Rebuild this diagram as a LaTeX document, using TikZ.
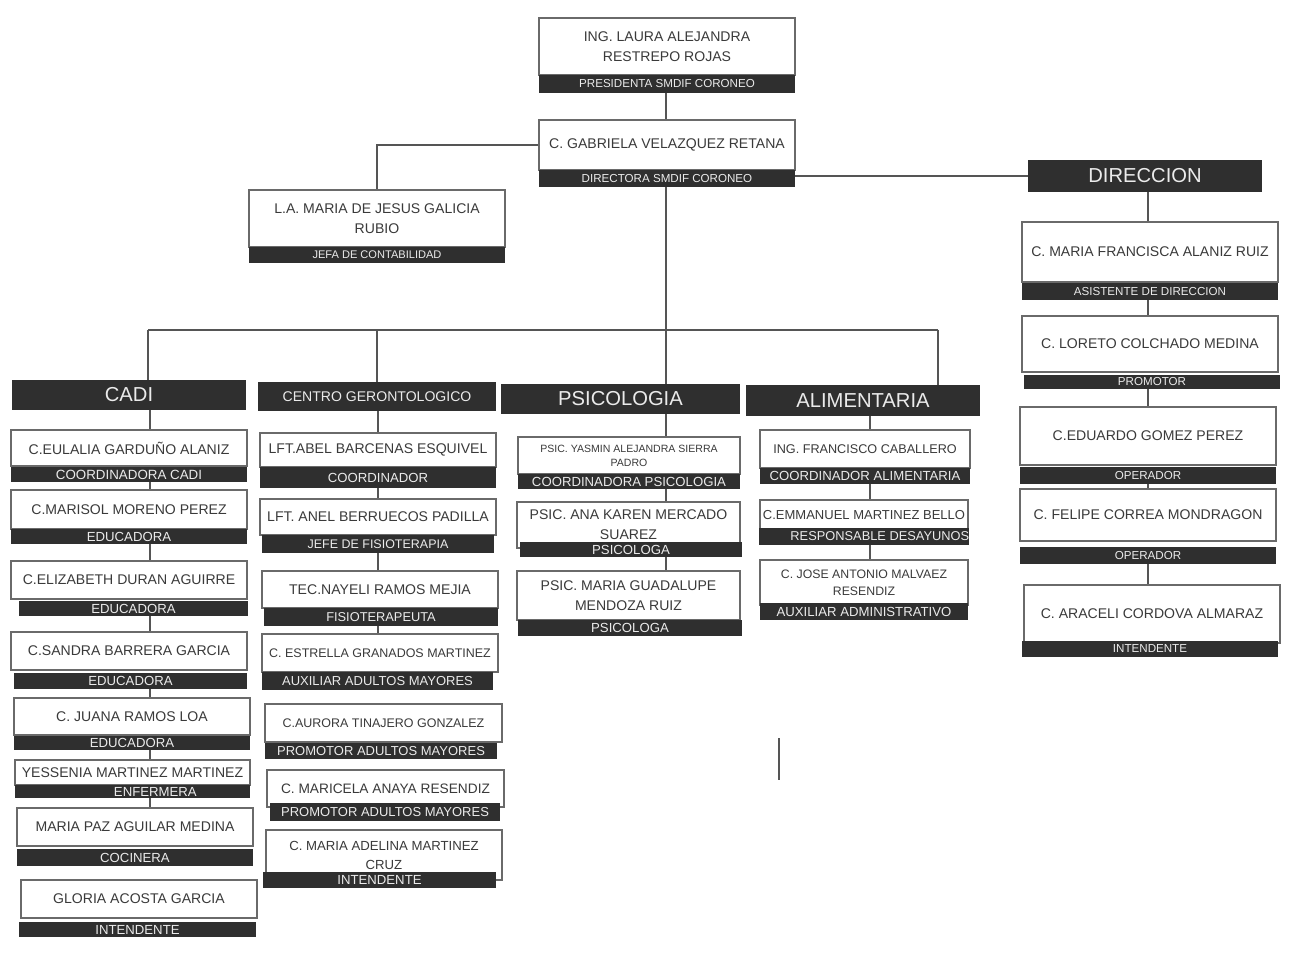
\documentclass[tikz,border=0pt]{standalone}
\usepackage{fontspec}
\setmainfont{Liberation Sans}
\definecolor{bandc}{HTML}{2F2F2F}
\definecolor{edgec}{HTML}{6A6A6A}
\definecolor{txtc}{HTML}{3A3A3A}
\definecolor{linec}{HTML}{555555}
\newcommand\fs[1]{\fontsize{#1}{#1*1.25}\selectfont}
\tikzset{
  namebox/.style={draw=edgec,fill=white,line width=0.6pt,inner sep=0pt,align=center,text=txtc,font=\fontsize{8}{11.3}\selectfont},
  bandbox/.style={fill=bandc,draw=none,inner sep=0pt,align=center,text=white!92!black,font=\fontsize{7.5}{8}\selectfont},
  headbox/.style={fill=bandc,draw=none,inner sep=0pt,align=center,text=white!92!black,font=\fontsize{11.5}{12}\selectfont},
  conn/.style={draw=linec,line width=0.7pt}
}
% [opts]{name}{x1}{y1}{x2}{y2}{text}
\newcommand\pbox[7][]{\node[namebox,minimum width={(#5-#3)*0.02cm},minimum height={(#6-#4)*0.02cm},#1] (#2) at ({(#3+#5)/2},{(#4+#6)/2}) {#7};}
\newcommand\pband[7][]{\node[bandbox,minimum width={(#5-#3)*0.02cm},minimum height={(#6-#4)*0.02cm},#1] (#2) at ({(#3+#5)/2},{(#4+#6)/2}) {#7};}
\newcommand\phead[7][]{\node[headbox,minimum width={(#5-#3)*0.02cm},minimum height={(#6-#4)*0.02cm},#1] (#2) at ({(#3+#5)/2},{(#4+#6)/2}) {#7};}
\begin{document}
\begin{tikzpicture}[x=0.02cm,y=-0.02cm]
\fill[white] (0,0) rectangle (1292,969);
\useasboundingbox (0,0) rectangle (1292,969);

% ---- top
\pbox{laura}{539}{18}{795}{75}{ING. LAURA ALEJANDRA\\RESTREPO ROJAS}
\pband[font=\fontsize{6.6}{7}\selectfont]{laurab}{539}{75}{795}{93}{PRESIDENTA SMDIF CORONEO}
\pbox{gab}{539}{120}{795}{170}{C. GABRIELA VELAZQUEZ RETANA}
\pband[font=\fontsize{6.6}{7}\selectfont]{gabb}{539}{170}{795}{187}{DIRECTORA SMDIF CORONEO}
\pbox{mdj}{249}{190}{505}{247}{L.A. MARIA DE JESUS GALICIA\\RUBIO}
\pband[font=\fontsize{6.3}{7}\selectfont]{mdjb}{249}{247}{505}{263}{JEFA DE CONTABILIDAD}

% ---- direccion
\phead{dir}{1028}{160}{1262}{192}{DIRECCION}
\pbox{mfa}{1022}{222}{1278}{282}{C. MARIA FRANCISCA ALANIZ RUIZ}
\pband[font=\fontsize{6.6}{7}\selectfont]{mfab}{1022}{283}{1278}{300}{ASISTENTE DE DIRECCION}
\pbox{lor}{1022}{316}{1278}{372}{C. LORETO COLCHADO MEDINA}
\pband[font=\fontsize{6.6}{7}\selectfont]{lorb}{1024}{375}{1280}{389}{PROMOTOR}
\pbox{edu}{1020}{407}{1276}{465}{C.EDUARDO GOMEZ PEREZ}
\pband[font=\fontsize{6.6}{7}\selectfont]{edub}{1020}{467}{1276}{484}{OPERADOR}
\pbox{fel}{1020}{489}{1276}{541}{C. FELIPE CORREA MONDRAGON}
\pband[font=\fontsize{6.6}{7}\selectfont]{felb}{1020}{547}{1276}{564}{OPERADOR}
\pbox{ara}{1024}{585}{1280}{643}{C. ARACELI CORDOVA ALMARAZ}
\pband[font=\fontsize{6.6}{7}\selectfont]{arab}{1022}{641}{1278}{657}{INTENDENTE}

% ---- headers
\phead{cadi}{12}{380}{246}{410}{CADI}
\phead[font=\fontsize{8}{9}\selectfont]{cent}{258}{382}{496}{411}{CENTRO GERONTOLOGICO}
\phead{psi}{501}{384}{740}{414}{PSICOLOGIA}
\phead{alim}{746}{385}{980}{416}{ALIMENTARIA}

% ---- CADI
\pbox{eul}{11}{430}{247}{466}{C.EULALIA GARDUÑO ALANIZ}
\pband[font=\fontsize{7.6}{8}\selectfont]{eulb}{11}{467}{247}{482}{COORDINADORA CADI}
\pbox{mar}{11}{490}{247}{529}{C.MARISOL MORENO PEREZ}
\pband{marb}{11}{529}{247}{544}{EDUCADORA}
\pbox{eli}{11}{561}{247}{599}{C.ELIZABETH DURAN AGUIRRE}
\pband{elib}{19}{601}{248}{616}{EDUCADORA}
\pbox{san}{11}{632}{247}{670}{C.SANDRA BARRERA GARCIA}
\pband{sanb}{14}{673}{247}{689}{EDUCADORA}
\pbox{jua}{14}{698}{250}{735}{C. JUANA RAMOS LOA}
\pband{juab}{14}{736}{250}{750}{EDUCADORA}
\pbox{yes}{15}{760}{250}{785}{YESSENIA MARTINEZ MARTINEZ}
\pband{yesb}{15}{785}{250}{798}{\hspace*{26pt}ENFERMERA}
\pbox{maz}{17}{808}{253}{846}{MARIA PAZ AGUILAR MEDINA}
\pband{mazb}{17}{849}{253}{866}{COCINERA}
\pbox{glo}{21}{880}{257}{918}{GLORIA ACOSTA GARCIA}
\pband{glob}{19}{922}{256}{937}{INTENDENTE}

% ---- CENTRO GERONTOLOGICO
\pbox{abe}{260}{433}{496}{467}{LFT.ABEL BARCENAS ESQUIVEL}
\pband{abeb}{260}{467}{496}{488}{COORDINADOR}
\pbox{ane}{260}{499}{496}{535}{LFT. ANEL BERRUECOS PADILLA}
\pband[font=\fontsize{7.1}{8}\selectfont]{aneb}{262}{535}{494}{553}{JEFE DE FISIOTERAPIA}
\pbox{nay}{262}{571}{498}{608}{TEC.NAYELI RAMOS MEJIA}
\pband[font=\fontsize{7.3}{8}\selectfont]{nayb}{264}{608}{498}{626}{FISIOTERAPEUTA}
\pbox[font=\fontsize{7.1}{9}\selectfont]{est}{262}{634}{498}{672}{C. ESTRELLA GRANADOS MARTINEZ}
\pband[font=\fontsize{7.4}{8}\selectfont]{estb}{262}{672}{493}{690}{AUXILIAR ADULTOS MAYORES}
\pbox[font=\fontsize{7.1}{9}\selectfont]{aur}{265}{704}{502}{742}{C.AURORA TINAJERO GONZALEZ}
\pband[font=\fontsize{7.4}{8}\selectfont]{aurb}{265}{743}{497}{759}{PROMOTOR ADULTOS MAYORES}
\pbox[font=\fontsize{7.8}{9}\selectfont]{mic}{267}{770}{504}{807}{C. MARICELA ANAYA RESENDIZ}
\pband[font=\fontsize{7.4}{8}\selectfont]{micb}{270}{803}{500}{821}{PROMOTOR ADULTOS MAYORES}
\pbox[font=\fontsize{7.5}{10.8}\selectfont]{ade}{266}{830}{502}{880}{C. MARIA ADELINA MARTINEZ\\CRUZ}
\pband{adeb}{263}{872}{496}{888}{INTENDENTE}

% ---- PSICOLOGIA
\pbox[font=\fontsize{6}{8}\selectfont]{yas}{518}{437}{740}{474}{PSIC. YASMIN ALEJANDRA SIERRA\\PADRO}
\pband[font=\fontsize{7.5}{8}\selectfont]{yasb}{518}{474}{740}{489}{COORDINADORA PSICOLOGIA}
\pbox{ana}{517}{502}{740}{548}{PSIC. ANA KAREN MERCADO\\SUAREZ}
\pband{anab}{520}{542}{742}{557}{PSICOLOGA}
\pbox{gua}{517}{571}{740}{620}{PSIC. MARIA GUADALUPE\\MENDOZA RUIZ}
\pband{guab}{518}{620}{742}{636}{PSICOLOGA}

% ---- ALIMENTARIA
\pbox[font=\fontsize{7.2}{9}\selectfont]{fra}{760}{430}{970}{468}{ING. FRANCISCO CABALLERO}
\pband{frab}{760}{468}{970}{484}{COORDINADOR ALIMENTARIA}
\pbox[font=\fontsize{7.4}{9}\selectfont]{emm}{760}{500}{968}{530}{C.EMMANUEL MARTINEZ BELLO}
\pband[font=\fontsize{7.3}{8}\selectfont]{emmb}{760}{528}{968}{545}{\hspace*{18pt}RESPONSABLE DESAYUNOS}
\pbox[font=\fontsize{7}{9.6}\selectfont]{jos}{760}{560}{968}{605}{C. JOSE ANTONIO MALVAEZ\\RESENDIZ}
\pband{josb}{760}{603}{968}{620}{AUXILIAR ADMINISTRATIVO}

% ---- connectors
\coordinate (busL) at (148,330);
\coordinate (busR) at (938,330);
\coordinate (cA) at (150,0);
\coordinate (cB) at (378,0);
\coordinate (cC) at (666,0);
\coordinate (cD) at (870,0);
\coordinate (cE) at (1148,0);
\coordinate (stubT) at (779,738);
\coordinate (stubB) at (779,780);

\draw[conn] (laurab.south -| cC) -- (gab.north -| cC);
\draw[conn] (gab.west) -| (mdj.north);
\draw[conn] (dir.west) -- (dir.west -| gabb.east);
\draw[conn] (gabb.south -| cC) -- (psi.north -| cC);
\draw[conn] (busL) -- (busR);
\draw[conn] (busL) -- (busL |- cadi.north);
\draw[conn] (cent.north) -- (cent.north |- busL);
\draw[conn] (busR) -- (busR |- alim.north);

\foreach \a/\b in {cadi/eul,eulb/mar,marb/eli,elib/san,sanb/jua,juab/yes,yesb/maz}
  \draw[conn] (\a.south -| cA) -- (\b.north -| cA);
\foreach \a/\b in {cent/abe,abeb/ane,aneb/nay,nayb/est}
  \draw[conn] (\a.south -| cB) -- (\b.north -| cB);
\foreach \a/\b in {psi/yas,yasb/ana,anab/gua}
  \draw[conn] (\a.south -| cC) -- (\b.north -| cC);
\foreach \a/\b in {alim/fra,frab/emm,emmb/jos}
  \draw[conn] (\a.south -| cD) -- (\b.north -| cD);
\foreach \a/\b in {dir/mfa,mfab/lor,lorb/edu,edub/fel,felb/ara}
  \draw[conn] (\a.south -| cE) -- (\b.north -| cE);

\draw[conn] (stubT) -- (stubB);
\end{tikzpicture}
\end{document}
